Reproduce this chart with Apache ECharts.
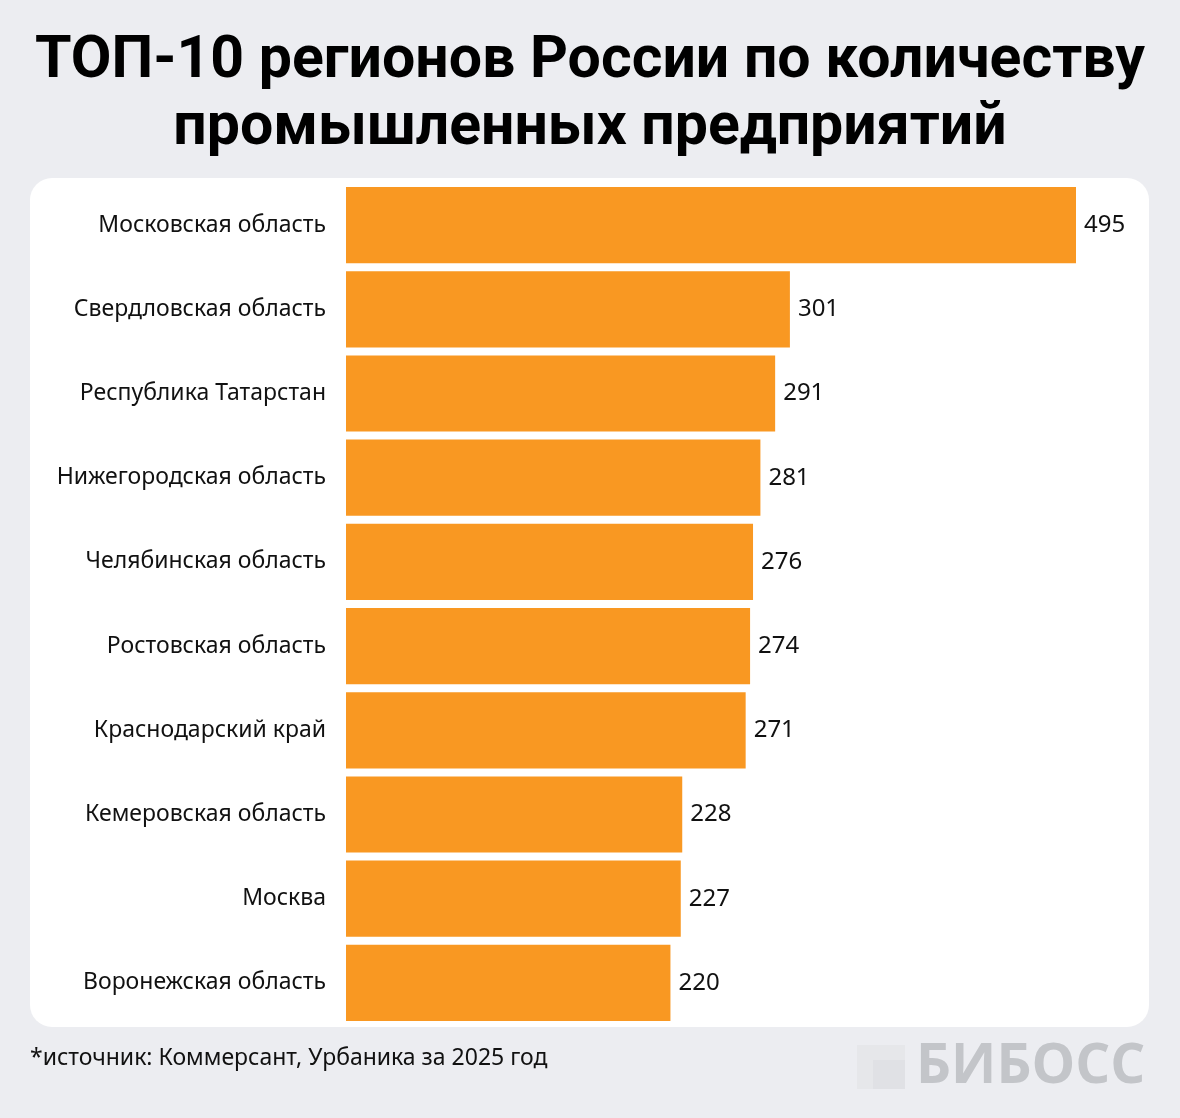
<!DOCTYPE html>
<html>
<head>
<meta charset="utf-8">
<script src="https://cdn.jsdelivr.net/npm/echarts@6/dist/echarts.min.js"></script>
<style>
  html, body { margin: 0; padding: 0; background: #ecedf1; }
  #chart { width: 1180px; height: 1118px; }
</style>
</head>
<body>
<div id="chart"></div>
<script>
// данные
var regions = ['Московская область', 'Свердловская область', 'Республика Татарстан',
    'Нижегородская область', 'Челябинская область', 'Ростовская область',
    'Краснодарский край', 'Кемеровская область', 'Москва', 'Воронежская область'];
var counts = [495, 301, 291, 281, 276, 274, 271, 228, 227, 220];

var titleText = 'ТОП-10 регионов России по количеству\nпромышленных предприятий';
var sourceText = '*источник: Коммерсант, Урбаника за 2025 год';

var chart = echarts.init(document.getElementById('chart'));
var option = {
    backgroundColor: '#ecedf1',
    animation: false,
    title: {
        text: titleText,
        left: 'center',
        top: 24,
        textStyle: {
            fontFamily: 'Roboto',
            fontWeight: 'bold',
            fontSize: 59,
            lineHeight: 67,
            color: '#000'
        }
    },
    graphic: [
        {
            type: 'rect',
            z: -1,
            shape: { x: 30, y: 178, width: 1119, height: 849, r: 22 },
            style: { fill: '#ffffff' }
        },
        {
            type: 'text',
            left: 30,
            top: 1047,
            style: { text: sourceText, font: '23px "Noto Sans"', fill: '#111' }
        },
        {
            type: 'rect',
            shape: { x: 857, y: 1045, width: 48, height: 44 },
            style: { fill: '#e6e7ea' }
        },
        {
            type: 'rect',
            shape: { x: 873, y: 1060, width: 32, height: 29 },
            style: { fill: '#e0e1e5' }
        },
        {
            type: 'text',
            left: 916,
            top: 1040,
            style: { text: 'БИБОСС', font: 'bold 55px "Open Sans"', fill: '#c3c5c9' }
        }
    ],
    grid: { left: 346, right: 104, top: 183, height: 842 },
    xAxis: {
        type: 'value',
        min: 0,
        max: 495,
        show: false
    },
    yAxis: {
        type: 'category',
        data: regions,
        inverse: true,
        axisLine: { show: false },
        axisTick: { show: false },
        axisLabel: {
            margin: 20,
            fontFamily: 'Noto Sans',
            fontSize: 23,
            color: '#111'
        }
    },
    series: [{
        type: 'bar',
        data: counts,
        barCategoryGap: '9.5%',
        itemStyle: { color: '#f99822' },
        label: {
            show: true,
            position: 'right',
            distance: 8,
            fontFamily: 'Noto Sans',
            fontSize: 24,
            color: '#111'
        }
    }]
};
chart.setOption(option);
</script>
</body>
</html>
